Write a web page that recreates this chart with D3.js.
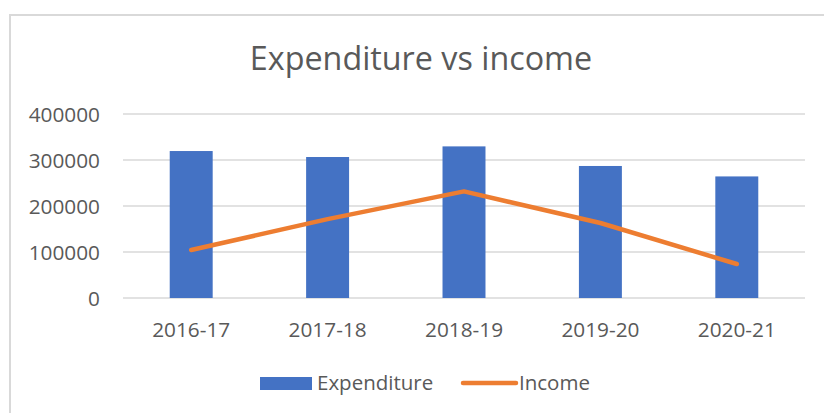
<!DOCTYPE html>
<html>
<head>
<meta charset="utf-8">
<script src="https://cdn.jsdelivr.net/npm/d3@7"></script>
<style>
  html, body { margin: 0; padding: 0; background: #fff; }
  svg { display: block; }
  text { font-family: "Open Sans", "Noto Sans", sans-serif; fill: #595959; }
</style>
</head>
<body>
<svg id="chart" width="824" height="413"></svg>
<script>
const categories = ["2016-17", "2017-18", "2018-19", "2019-20", "2020-21"];
const expenditure = [319500, 306500, 329600, 287000, 264300];
const income = [104300, 171500, 231700, 163000, 73900];
const yTicks = [0, 100000, 200000, 300000, 400000];
const title = "Expenditure vs income";
const seriesNames = ["Expenditure", "Income"];

const svg = d3.select("#chart");
const blue = "#4472C4", orange = "#ED7D31", grid = "#d9d9d9";

// outer chart border
svg.append("rect")
  .attr("x", 10).attr("y", 15).attr("width", 830).attr("height", 420)
  .attr("fill", "#fff").attr("stroke", grid).attr("stroke-width", 2);

const x = d3.scaleBand().domain(categories).range([123, 805]).padding(0);
const y = d3.scaleLinear().domain([0, 400000]).range([298, 114]);

// title
svg.append("text")
  .attr("x", 421).attr("y", 70)
  .attr("text-anchor", "middle")
  .attr("font-size", 32.3)
  .text(title);

// gridlines
svg.append("g").selectAll("line").data(yTicks).join("line")
  .attr("x1", 123).attr("x2", 805)
  .attr("y1", d => y(d)).attr("y2", d => y(d))
  .attr("stroke", grid).attr("stroke-width", 1.5);

// y axis labels
const yAxis = d3.axisLeft(y).tickValues(yTicks).tickSize(0).tickPadding(0).tickFormat(d3.format("d"));
const gy = svg.append("g").attr("transform", "translate(100,0)").call(yAxis);
gy.select(".domain").remove();
gy.selectAll("text")
  .attr("font-size", 20.8)
  .attr("fill", "#595959")
  .attr("dy", null)
  .attr("y", 7)
  .style("font-family", "'Open Sans', 'Noto Sans', sans-serif");

// x axis labels
const xAxis = d3.axisBottom(x).tickSize(0).tickPadding(0);
const gx = svg.append("g").attr("transform", "translate(0,298)").call(xAxis);
gx.select(".domain").remove();
gx.selectAll("text")
  .attr("font-size", 20.8)
  .attr("fill", "#595959")
  .attr("dy", null)
  .attr("y", 39)
  .style("font-family", "'Open Sans', 'Noto Sans', sans-serif");

// bars
const bw = x.bandwidth() * 0.315;
svg.append("g").selectAll("rect").data(expenditure).join("rect")
  .attr("x", (d, i) => x(categories[i]) + x.bandwidth() / 2 - bw / 2)
  .attr("width", bw)
  .attr("y", d => y(d))
  .attr("height", d => y(0) - y(d))
  .attr("fill", blue);

// income line
const line = d3.line()
  .x((d, i) => x(categories[i]) + x.bandwidth() / 2)
  .y(d => y(d));
svg.append("path")
  .datum(income)
  .attr("d", line)
  .attr("fill", "none")
  .attr("stroke", orange)
  .attr("stroke-width", 4.5)
  .attr("stroke-linecap", "round")
  .attr("stroke-linejoin", "round");

// legend
const lg = svg.append("g");
lg.append("rect").attr("x", 260).attr("y", 377).attr("width", 52).attr("height", 13).attr("fill", blue);
lg.append("text").attr("x", 317).attr("y", 390).attr("font-size", 20.5).text(seriesNames[0]);
lg.append("line").attr("x1", 463).attr("x2", 516).attr("y1", 383).attr("y2", 383)
  .attr("stroke", orange).attr("stroke-width", 4.5).attr("stroke-linecap", "round");
lg.append("text").attr("x", 519).attr("y", 390).attr("font-size", 20.5).text(seriesNames[1]);
</script>
</body>
</html>
